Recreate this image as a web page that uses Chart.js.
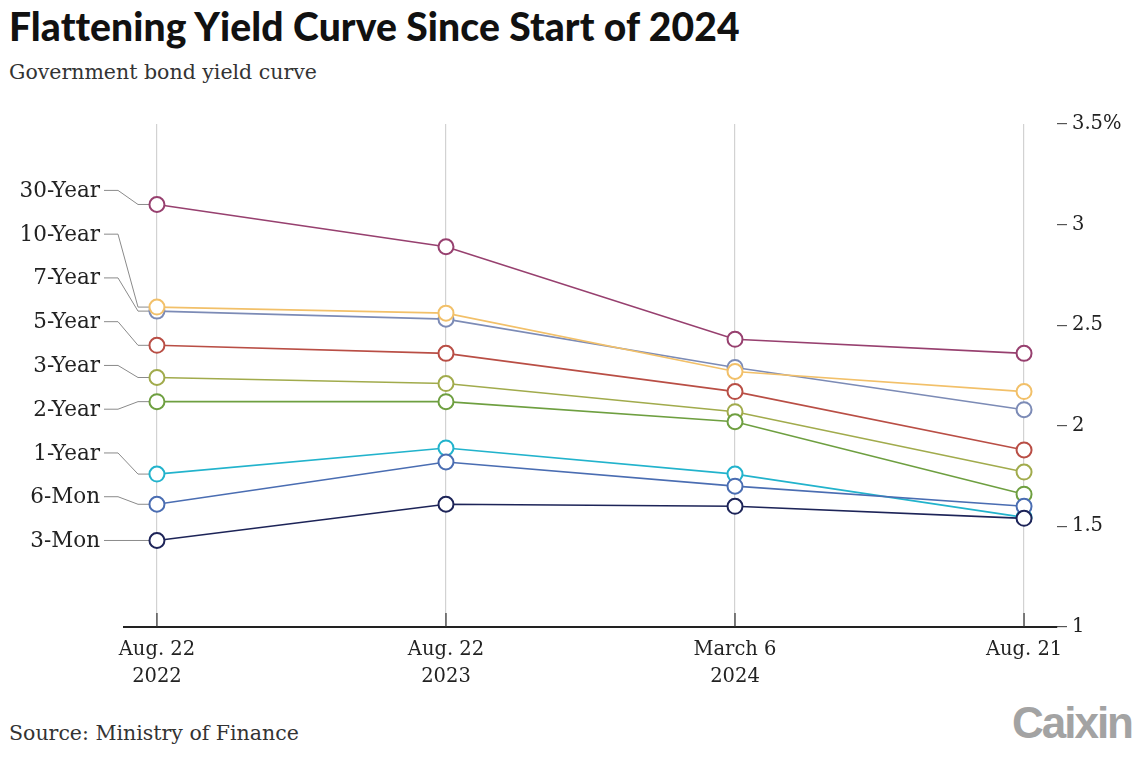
<!DOCTYPE html>
<html>
<head>
<meta charset="utf-8">
<script src="https://cdn.jsdelivr.net/npm/chart.js@4"></script>
<style>
  body { margin:0; background:#fff; width:1140px; height:760px; position:relative; overflow:hidden;
         font-family:"DejaVu Serif", serif; color:#222; }
  #title { position:absolute; left:9px; top:3px; font:900 39px Lato, sans-serif; letter-spacing:0.1px; color:#111; }
  #sub   { position:absolute; left:9px; top:60px; font-size:20.5px; color:#333; }
  #src   { position:absolute; left:9px; top:721px; font-size:20.5px; color:#333; }
  #logo  { position:absolute; right:8px; top:698px; font:bold 44px "Liberation Sans", Arial, sans-serif;
           color:#a3a3a3; letter-spacing:-2px; }
  #wrap  { position:absolute; left:0; top:0; width:1140px; height:760px; }
</style>
</head>
<body>
<div id="title">Flattening Yield Curve Since Start of 2024</div>
<div id="sub">Government bond yield curve</div>
<div id="src">Source: Ministry of Finance</div>
<div id="logo">Caixin</div>
<div id="wrap"><canvas id="c"></canvas></div>

<script>
/* ---------- data ---------- */
const dates  = [['Aug. 22', '2022'], ['Aug. 22', '2023'], ['March 6', '2024'], ['Aug. 21']];
const tenors = ['30-Year', '10-Year', '7-Year', '5-Year', '3-Year', '2-Year', '1-Year', '6-Mon', '3-Mon'];

const y30 = [3.10, 2.89, 2.43, 2.36];
const y10 = [2.59, 2.56, 2.27, 2.17];
const y7  = [2.57, 2.53, 2.29, 2.08];
const y5  = [2.40, 2.36, 2.17, 1.88];
const y3  = [2.24, 2.21, 2.07, 1.77];
const y2  = [2.12, 2.12, 2.02, 1.66];
const y1  = [1.76, 1.89, 1.76, 1.545];
const m6  = [1.61, 1.82, 1.70, 1.60];
const m3  = [1.43, 1.61, 1.60, 1.54];

const yTicks = [1, 1.5, 2, 2.5, 3, 3.5];

const COLOR = {
  '30-Year': '#97406f',
  '10-Year': '#f2c069',
  '7-Year' : '#7c8bb6',
  '5-Year' : '#b94e45',
  '3-Year' : '#a1ab4c',
  '2-Year' : '#6e9f40',
  '1-Year' : '#22b3cc',
  '6-Mon'  : '#4a6db2',
  '3-Mon'  : '#1d2458'
};

const SERIES = {
  '30-Year': y30, '10-Year': y10, '7-Year': y7, '5-Year': y5, '3-Year': y3,
  '2-Year': y2, '1-Year': y1, '6-Mon': m6, '3-Mon': m3
};

// first entry is painted on top
const DRAW_ORDER = ['3-Mon', '6-Mon', '1-Year', '10-Year', '7-Year', '2-Year', '3-Year', '5-Year', '30-Year'];

const SERIF = '"DejaVu Serif", serif';
const LABEL_GAP = 0.2175;   // spacing of the left-hand labels, in % units

/* ---------- left labels with leader lines ---------- */
const leaderLabels = {
  id: 'leaderLabels',
  beforeDatasetsDraw(chart) {
    const { ctx } = chart;
    const xs = chart.scales.x, ys = chart.scales.y;
    const px0 = xs.getPixelForValue(0);
    ctx.save();
    ctx.font = '21.5px ' + SERIF;
    ctx.textAlign = 'right';
    ctx.textBaseline = 'middle';
    tenors.forEach((t, i) => {
      const ly = ys.getPixelForValue(m3[0] + (tenors.length - 1 - i) * LABEL_GAP);
      const py = ys.getPixelForValue(SERIES[t][0]);
      ctx.fillStyle = '#222';
      ctx.fillText(t, 100, ly + 1);
      ctx.strokeStyle = '#8a8a8a';
      ctx.lineWidth = 1;
      ctx.beginPath();
      ctx.moveTo(104, ly);
      ctx.lineTo(118, ly);
      ctx.lineTo(138, py);
      ctx.lineTo(px0, py);
      ctx.stroke();
    });
    ctx.restore();
  }
};

/* ---------- short dark ticks at foot of each gridline ---------- */
const innerTicks = {
  id: 'innerTicks',
  afterDraw(chart) {
    const { ctx, chartArea } = chart;
    const xs = chart.scales.x;
    ctx.save();
    ctx.strokeStyle = '#333';
    ctx.lineWidth = 1.2;
    dates.forEach((d, i) => {
      const x = xs.getPixelForValue(i);
      ctx.beginPath();
      ctx.moveTo(x, chartArea.bottom - 14);
      ctx.lineTo(x, chartArea.bottom);
      ctx.stroke();
    });
    ctx.restore();
  }
};

const datasets = DRAW_ORDER.map(t => ({
  label: t,
  data: SERIES[t].map((v, i) => ({ x: i, y: v })),
  borderColor: COLOR[t],
  backgroundColor: '#fff',
  pointBackgroundColor: '#fff',
  pointBorderColor: COLOR[t],
  pointBorderWidth: 2,
  pointRadius: 7.5,
  borderWidth: 1.6,
  tension: 0,
  clip: false
}));

new Chart(document.getElementById('c'), {
  type: 'line',
  data: { datasets },
  options: {
    responsive: true,
    maintainAspectRatio: false,
    animation: false,
    events: [],
    layout: { padding: { left: 124, top: 124, right: 0, bottom: 0 } },
    scales: {
      x: {
        type: 'linear',
        min: -0.114,
        max: 3.114,
        afterBuildTicks: s => { s.ticks = dates.map((d, i) => ({ value: i })); },
        afterFit: s => { s.height = 760 - 627; },
        ticks: {
          callback: v => dates[v],
          font: { family: SERIF, size: 19.5, lineHeight: 1.4 },
          color: '#222',
          padding: 9,
          maxRotation: 0
        },
        grid: { color: '#d2d2d2', lineWidth: 1.2, drawTicks: false },
        border: { color: '#222', width: 2 }
      },
      y: {
        position: 'right',
        min: 1,
        max: 3.5,
        afterBuildTicks: s => { s.ticks = yTicks.map(v => ({ value: v })); },
        afterFit: s => { s.width = 1140 - 1057; },
        ticks: {
          callback: v => v === 3.5 ? '3.5%' : String(v),
          font: { family: SERIF, size: 19.5 },
          color: '#222',
          padding: 5
        },
        grid: { drawOnChartArea: false, drawTicks: true, tickLength: 10, tickColor: '#555', lineWidth: 1.2 },
        border: { display: false }
      }
    },
    plugins: {
      legend: { display: false },
      tooltip: { enabled: false }
    }
  },
  plugins: [leaderLabels, innerTicks]
});
</script>
</body>
</html>
